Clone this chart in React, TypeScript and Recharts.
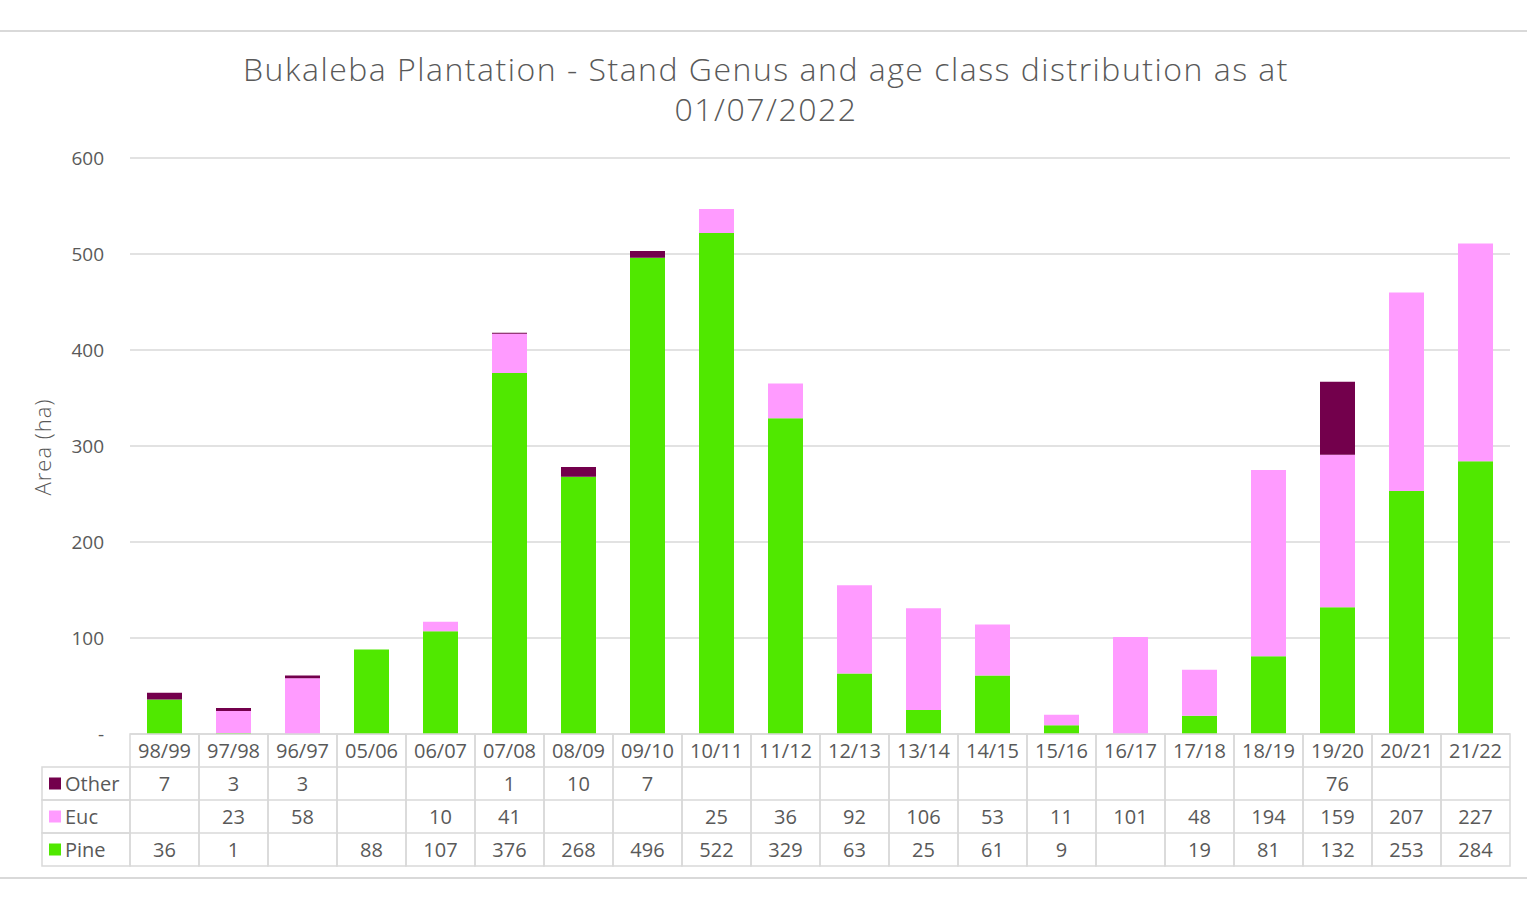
import React from "react";
import { Bar, BarChart, CartesianGrid, XAxis, YAxis } from "recharts";

const categories = ["98/99", "97/98", "96/97", "05/06", "06/07", "07/08", "08/09", "09/10", "10/11", "11/12", "12/13", "13/14", "14/15", "15/16", "16/17", "17/18", "18/19", "19/20", "20/21", "21/22"];
const other = [7, 3, 3, null, null, 1, 10, 7, null, null, null, null, null, null, null, null, null, 76, null, null];
const euc = [null, 23, 58, null, 10, 41, null, null, 25, 36, 92, 106, 53, 11, 101, 48, 194, 159, 207, 227];
const pine = [36, 1, null, 88, 107, 376, 268, 496, 522, 329, 63, 25, 61, 9, null, 19, 81, 132, 253, 284];
const yTicks = [0, 100, 200, 300, 400, 500, 600];

const data = categories.map((c, i) => ({ cat: c, Pine: pine[i], Euc: euc[i], Other: other[i] }));

const FONT = "'Open Sans', sans-serif";
const TXT = "#595959";
const LINE = "#d9d9d9";
const COLORS = { Pine: "#50e800", Euc: "#ff9bff", Other: "#73004c" };

const W = 1527;
const H = 900;
const PLOT_L = 130;
const PLOT_R = 1510;
const PLOT_T = 158;
const PLOT_B = 734;
const ROW_H = 33;
const LEG_L = 42;
const BAND = (PLOT_R - PLOT_L) / categories.length;

const rows: { name: keyof typeof COLORS; values: (number | null)[] }[] = [
  { name: "Other", values: other },
  { name: "Euc", values: euc },
  { name: "Pine", values: pine },
];

function TableTick(props: any) {
  const { x, payload } = props;
  const i = payload.index;
  const left = x - BAND / 2;
  const top = PLOT_B;
  return (
    <g>
      <rect x={left} y={top} width={BAND} height={ROW_H * 4} fill="none" stroke={LINE} strokeWidth={1.5} />
      {[1, 2, 3].map((r) => (
        <line key={r} x1={left} x2={left + BAND} y1={top + r * ROW_H} y2={top + r * ROW_H} stroke={LINE} strokeWidth={1.5} />
      ))}
      <text x={x} y={top + ROW_H / 2 + 7} textAnchor="middle" fontSize={20} fill={TXT} fontFamily={FONT}>
        {payload.value}
      </text>
      {rows.map((row, r) => (
        <text key={row.name} x={x} y={top + (r + 1) * ROW_H + ROW_H / 2 + 7} textAnchor="middle" fontSize={20} fill={TXT} fontFamily={FONT}>
          {row.values[i] == null ? "" : row.values[i]}
        </text>
      ))}
      {i === 0 &&
        rows.map((row, r) => {
          const ry = top + (r + 1) * ROW_H;
          return (
            <g key={row.name}>
              <rect x={LEG_L} y={ry} width={PLOT_L - LEG_L} height={ROW_H} fill="none" stroke={LINE} strokeWidth={1.5} />
              <rect x={LEG_L + 7} y={ry + ROW_H / 2 - 6} width={12} height={12} fill={COLORS[row.name]} />
              <text x={LEG_L + 23} y={ry + ROW_H / 2 + 7} fontSize={20} fill={TXT} fontFamily={FONT}>
                {row.name}
              </text>
            </g>
          );
        })}
    </g>
  );
}

export default function App() {
  return (
    <div style={{ position: "absolute", left: 0, top: 0, width: W, height: H, background: "#fff", fontFamily: FONT }}>
      <div style={{ position: "absolute", left: 0, top: 30, width: W, height: 2, background: LINE }} />
      <div style={{ position: "absolute", left: 0, top: 877, width: W, height: 2, background: LINE }} />
      <div
        style={{
          position: "absolute",
          left: 0,
          top: 49,
          width: 1532,
          textAlign: "center",
          fontSize: 32,
          letterSpacing: 1.5,
          lineHeight: "40px",
          color: TXT,
          fontWeight: 300,
        }}
      >
        Bukaleba Plantation - Stand Genus and age class distribution as at
        <br />
        01/07/2022
      </div>
      <div
        style={{
          position: "absolute",
          left: 42,
          top: 447,
          transform: "translate(-50%, -50%) rotate(-90deg)",
          fontSize: 22,
          letterSpacing: 1,
          color: TXT,
          whiteSpace: "nowrap",
          fontWeight: 300,
        }}
      >
        Area (ha)
      </div>
      <BarChart
        width={W}
        height={H}
        data={data}
        barSize={35}
        margin={{ left: PLOT_L - 60, right: W - PLOT_R, top: PLOT_T, bottom: 0 }}
        style={{ position: "absolute", left: 0, top: 0 }}
      >
        <CartesianGrid vertical={false} stroke={LINE} strokeWidth={1.5} />
        <YAxis
          width={60}
          domain={[0, 600]}
          ticks={yTicks}
          axisLine={false}
          tickLine={false}
          tickSize={0}
          tickMargin={26}
          tickFormatter={(v: number) => (v === 0 ? "-" : String(v))}
          tick={{ fontSize: 19, fill: TXT, fontFamily: FONT }}
        />
        <XAxis dataKey="cat" height={H - PLOT_B} axisLine={false} tickLine={false} interval={0} tick={<TableTick />} />
        <Bar dataKey="Pine" stackId="a" fill={COLORS.Pine} isAnimationActive={false} />
        <Bar dataKey="Euc" stackId="a" fill={COLORS.Euc} isAnimationActive={false} />
        <Bar dataKey="Other" stackId="a" fill={COLORS.Other} isAnimationActive={false} />
      </BarChart>
    </div>
  );
}
